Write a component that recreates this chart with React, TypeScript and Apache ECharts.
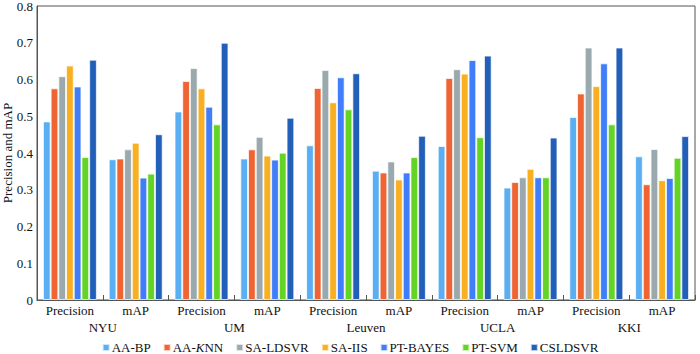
import React, { useEffect, useRef } from "react";
import * as echarts from "echarts";

const metrics = ["Precision", "mAP", "Precision", "mAP", "Precision", "mAP", "Precision", "mAP", "Precision", "mAP"];
const sites = ["NYU", "UM", "Leuven", "UCLA", "KKI"];
const seriesNames = ["AA-BP", "AA-KNN", "SA-LDSVR", "SA-IIS", "PT-BAYES", "PT-SVM", "CSLDSVR"];
const colors = ["#5aaef2", "#ef6433", "#9aa9ad", "#f8b022", "#3f7ef8", "#63d325", "#215fb8"];

const aaBP = [0.486, 0.383, 0.513, 0.385, 0.421, 0.352, 0.419, 0.306, 0.498, 0.391];
const aaKNN = [0.576, 0.385, 0.596, 0.410, 0.577, 0.347, 0.604, 0.321, 0.562, 0.315];
const saLDSVR = [0.609, 0.410, 0.631, 0.444, 0.626, 0.377, 0.628, 0.334, 0.687, 0.411];
const saIIS = [0.638, 0.428, 0.576, 0.393, 0.538, 0.328, 0.616, 0.357, 0.582, 0.326];
const ptBAYES = [0.581, 0.333, 0.526, 0.382, 0.606, 0.347, 0.653, 0.334, 0.644, 0.332];
const ptSVM = [0.389, 0.344, 0.478, 0.401, 0.519, 0.389, 0.443, 0.334, 0.478, 0.387];
const csLDSVR = [0.654, 0.451, 0.700, 0.496, 0.617, 0.447, 0.665, 0.442, 0.687, 0.446];

const allValues = [aaBP, aaKNN, saLDSVR, saIIS, ptBAYES, ptSVM, csLDSVR];
const yTicks = ["0", "0.1", "0.2", "0.3", "0.4", "0.5", "0.6", "0.7", "0.8"];

const FONT = "'Liberation Serif', 'Times New Roman', serif";

export default function App() {
  const ref = useRef<HTMLDivElement>(null);
  useEffect(() => {
    if (!ref.current) return;
    const chart = echarts.init(ref.current, null, { renderer: "svg" });
    chart.setOption({
      animation: false,
      backgroundColor: "#ffffff",
      textStyle: { fontFamily: FONT, color: "#111" },
      grid: {
        left: 37,
        right: 5,
        top: 6,
        bottom: 54,
        containLabel: false,
        outerBoundsMode: "none",
        show: true,
        borderColor: "#555",
        borderWidth: 1,
      },
      legend: {
        top: 341,
        left: "center",
        padding: 0,
        icon: "rect",
        itemWidth: 7,
        itemHeight: 7,
        itemGap: 12,
        data: seriesNames,
        textStyle: {
          fontFamily: FONT,
          fontSize: 13,
          color: "#111",
          padding: [0, 0, 0, -3],
          rich: { i: { fontFamily: FONT, fontSize: 13, fontStyle: "italic", color: "#111" } },
        },
        formatter: (name: string) => (name === "AA-KNN" ? "AA-{i|K}NN" : name),
      },
      xAxis: [
        {
          type: "category",
          data: metrics,
          axisLine: { lineStyle: { color: "#555", width: 1 } },
          axisTick: { show: true, inside: true, length: 5, lineStyle: { color: "#555" } },
          axisLabel: { fontFamily: FONT, fontSize: 13, color: "#111", margin: 4, interval: 0 },
        },
        {
          type: "category",
          data: sites,
          position: "bottom",
          offset: 17,
          axisLine: { show: false },
          axisTick: { show: false },
          axisLabel: { fontFamily: FONT, fontSize: 13, color: "#111", margin: 4, interval: 0 },
        },
      ],
      yAxis: {
        type: "value",
        min: 0,
        max: 0.8,
        interval: 0.1,
        name: "Precision and mAP",
        nameLocation: "middle",
        nameGap: 23,
        nameMoveOverlap: false,
        nameTextStyle: { fontFamily: FONT, fontSize: 13, color: "#111" },
        axisLine: { show: true, lineStyle: { color: "#555", width: 1 } },
        axisTick: { show: false },
        splitLine: { show: false },
        axisLabel: {
          fontFamily: FONT,
          fontSize: 13,
          color: "#111",
          margin: 4,
          formatter: (v: number) => yTicks[Math.round(v * 10)] ?? String(v),
        },
      },
      series: seriesNames.map((name, i) => ({
        name,
        type: "bar",
        xAxisIndex: 0,
        data: allValues[i],
        barGap: "0%",
        barCategoryGap: "18%",
        itemStyle: { color: colors[i], borderColor: "rgba(255,255,255,0.7)", borderWidth: 1 },
      })),
    });
    return () => chart.dispose();
  }, []);
  return (
    <div
      ref={ref}
      style={{ position: "fixed", left: 0, top: 0, width: 700, height: 354, background: "#fff" }}
    />
  );
}
